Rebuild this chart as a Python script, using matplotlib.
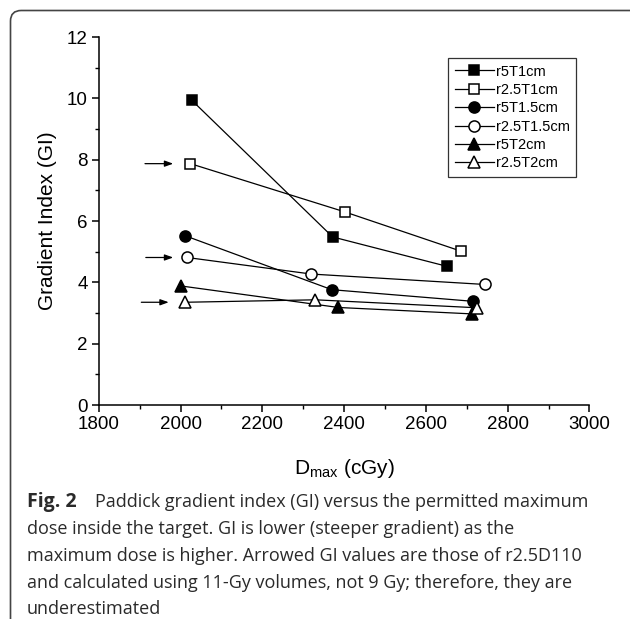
import matplotlib
matplotlib.use("Agg")
import matplotlib.pyplot as plt
from matplotlib.patches import FancyBboxPatch
from matplotlib.ticker import MultipleLocator

# data (Dmax in cGy, GI)
r5T1cm_x = [2028, 2372, 2652]
r5T1cm_y = [9.93, 5.48, 4.52]
r25T1cm_x = [2024, 2401, 2685]
r25T1cm_y = [7.87, 6.30, 5.02]
r5T15cm_x = [2011, 2370, 2716]
r5T15cm_y = [5.52, 3.76, 3.38]
r25T15cm_x = [2016, 2320, 2745]
r25T15cm_y = [4.81, 4.27, 3.93]
r5T2cm_x = [2002, 2386, 2714]
r5T2cm_y = [3.88, 3.18, 2.97]
r25T2cm_x = [2011, 2330, 2726]
r25T2cm_y = [3.35, 3.43, 3.17]

labels = ["r5T1cm", "r2.5T1cm", "r5T1.5cm", "r2.5T1.5cm", "r5T2cm", "r2.5T2cm"]
markers = ["s", "s", "o", "o", "^", "^"]
filled = [True, False, True, False, True, False]
msizes = [7.5, 7.5, 8, 8, 8.5, 8.5]

# arrows pointing at the r2.5D110 values: (x start, x end, GI)
arrow_x0 = [1913, 1915, 1904]
arrow_x1 = [1982, 1982, 1971]
arrow_y = [7.87, 4.81, 3.35]

caption = [
    "Paddick gradient index (GI) versus the permitted maximum",
    "dose inside the target. GI is lower (steeper gradient) as the",
    "maximum dose is higher. Arrowed GI values are those of r2.5D110",
    "and calculated using 11-Gy volumes, not 9 Gy; therefore, they are",
    "underestimated",
]

plt.rcParams['font.family'] = ['Liberation Sans', 'DejaVu Sans']

fig = plt.figure(figsize=(6.3, 6.19), dpi=100)
W, H = 630, 619

# rounded frame around figure + caption
box = FancyBboxPatch((10.5 / W, -0.2), 1.2, (H - 10.5) / H + 0.2,
                     boxstyle="round,pad=0,rounding_size=0.017",
                     transform=fig.transFigure, fill=False,
                     edgecolor="#444444", linewidth=1.2)
fig.patches.append(box)

ax = fig.add_axes([98.8 / W, 1 - 405 / H, (589.4 - 98.8) / W, (405 - 37) / H])

xs = [r5T1cm_x, r25T1cm_x, r5T15cm_x, r25T15cm_x, r5T2cm_x, r25T2cm_x]
ys = [r5T1cm_y, r25T1cm_y, r5T15cm_y, r25T15cm_y, r5T2cm_y, r25T2cm_y]
for x, y, lab, m, f, ms in zip(xs, ys, labels, markers, filled, msizes):
    ax.plot(x, y, color="black", linewidth=0.9, marker=m, markersize=ms,
            markerfacecolor="black" if f else "white",
            markeredgecolor="black", markeredgewidth=1.1, label=lab)

for x0, x1, y in zip(arrow_x0, arrow_x1, arrow_y):
    ax.annotate("", xy=(x1, y), xytext=(x0, y),
                arrowprops=dict(arrowstyle="-|>,head_length=0.5,head_width=0.18",
                                color="black", lw=0.9, shrinkA=0, shrinkB=0))

ax.set_xlim(1800, 3000)
ax.set_ylim(0, 12)
ax.xaxis.set_major_locator(MultipleLocator(200))
ax.xaxis.set_minor_locator(MultipleLocator(100))
ax.yaxis.set_major_locator(MultipleLocator(2))
ax.yaxis.set_minor_locator(MultipleLocator(1))
for s in ["top", "right"]:
    ax.spines[s].set_visible(False)
for s in ["left", "bottom"]:
    ax.spines[s].set_linewidth(1.1)
ax.tick_params(which="major", length=5, width=1.1, labelsize=13.5, pad=3)
ax.tick_params(which="minor", length=2.8, width=1.0)

ax.set_ylabel("Gradient Index (GI)", fontsize=15, labelpad=7)
ax.set_xlabel(r"D$_{\mathregular{max}}$ (cGy)", fontsize=15, labelpad=17)

leg = ax.legend(loc="upper right", bbox_to_anchor=(0.973, 0.943), fontsize=10.5,
                frameon=True, fancybox=False, edgecolor="black",
                handlelength=2.7, handletextpad=0.1, labelspacing=0.3,
                borderpad=0.45, borderaxespad=0)
leg.get_frame().set_linewidth(0.9)

# caption, placed line by line on baselines
cap_font = ['Open Sans', 'DejaVu Sans']
cap_col = "#2a2a2a"
fig.text(26.5 / W, 1 - 507 / H, "Fig. 2", fontsize=14, fontweight="bold",
         family=cap_font, va="baseline", ha="left", color=cap_col)
fig.text(95 / W, 1 - 507 / H, caption[0], fontsize=13, family=cap_font,
         va="baseline", ha="left", color=cap_col)
for i, line in enumerate(caption[1:]):
    fig.text(26.5 / W, 1 - (534 + 26.8 * i) / H, line, fontsize=13,
             family=cap_font, va="baseline", ha="left", color=cap_col)

fig.savefig("out.png", dpi=100)
